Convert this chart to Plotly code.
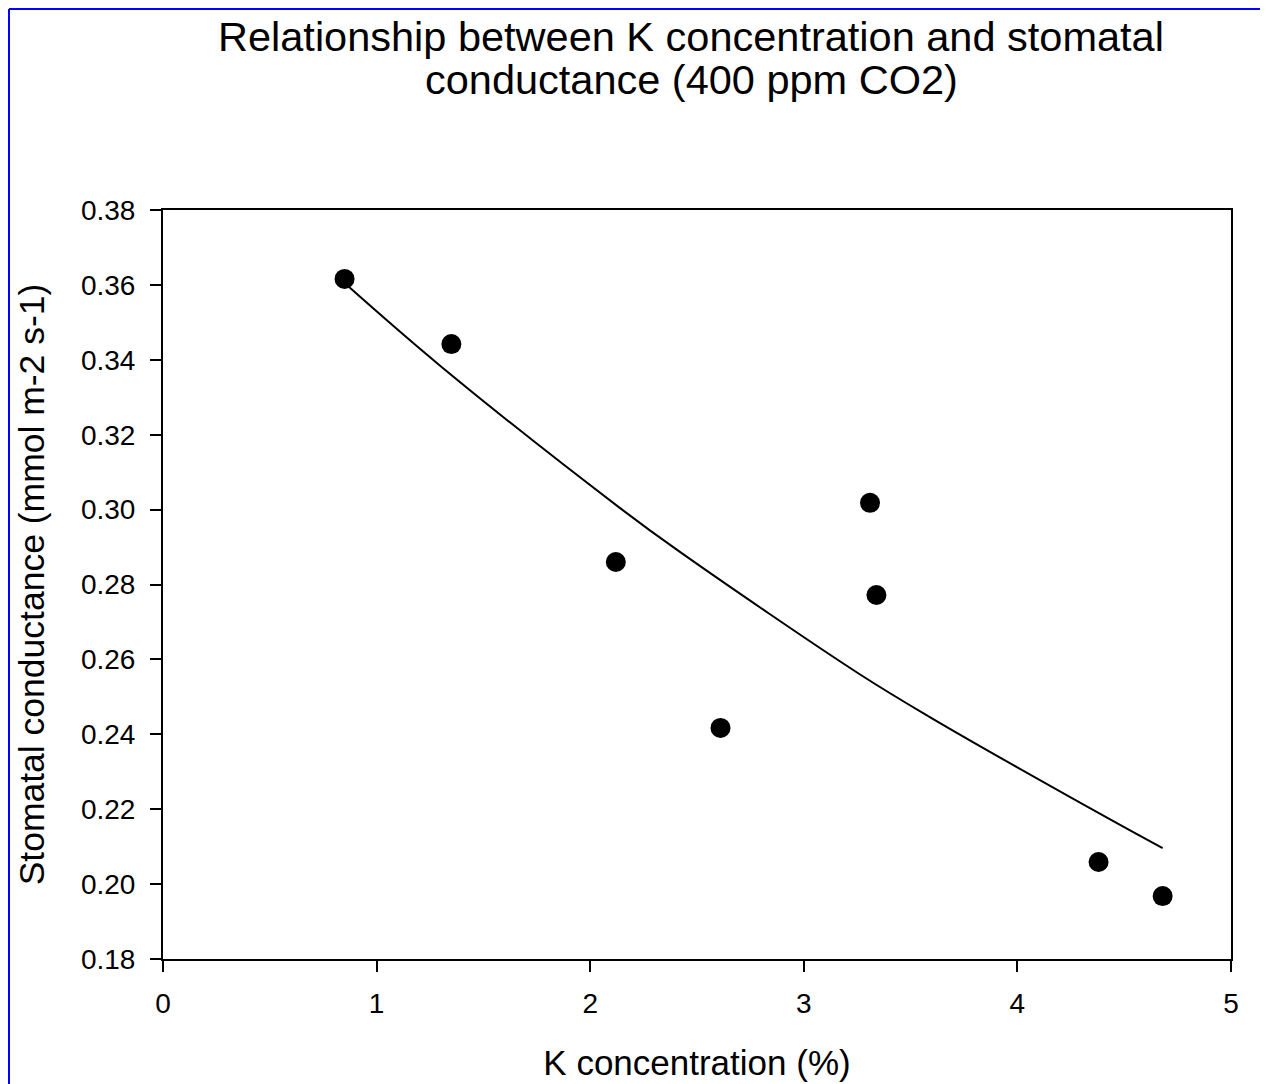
import plotly.graph_objects as go

# Measured points (K %, stomatal conductance)
k_conc = [0.85, 1.35, 2.12, 2.61, 3.31, 3.34, 4.38, 4.68]
conductance = [0.3616, 0.3442, 0.2860, 0.2417, 0.3018, 0.2772, 0.2059, 0.1968]

# Fitted curve
fit_x = [0.85, 1.30, 2.14, 2.42, 3.26, 3.59, 4.43, 4.68]
fit_y = [0.3605, 0.3383, 0.3004, 0.2887, 0.2561, 0.2446, 0.2174, 0.2096]

title_lines = ["Relationship between K concentration and stomatal",
               "conductance (400 ppm CO2)"]

W, H = 1268, 1084
OFF = 8  # page margin around the figure
L, T = 163 - OFF, 210 - OFF
pw, ph = 1068, 749
R, B = W - L - pw, H - T - ph


def px(x):
    # page pixel -> paper x
    return (x - OFF - L) / pw


def py(y):
    # page pixel -> paper y
    return (T + ph - (y - OFF)) / ph


FONT = "Liberation Sans, Arial, sans-serif"

fig = go.Figure()
fig.add_scatter(x=fit_x, y=fit_y, mode="lines", line=dict(color="black", width=2, shape="spline"),
                showlegend=False, hoverinfo="skip")
fig.add_scatter(x=k_conc, y=conductance, mode="markers",
                marker=dict(color="black", size=20, line=dict(width=0)), showlegend=False)

axis_common = dict(showgrid=False, zeroline=False, showline=True, linecolor="black", linewidth=2,
                   mirror=True, ticks="outside", ticklen=11, tickwidth=2, tickcolor="black",
                   tickfont=dict(size=28, color="black", family=FONT))
fig.update_xaxes(range=[0, 5], dtick=1, tick0=0, ticklabelstandoff=7,
                 title=dict(text="K concentration (%)", font=dict(size=35, color="black", family=FONT),
                            standoff=33),
                 **axis_common)
fig.update_yaxes(range=[0.18, 0.38], dtick=0.02, tick0=0.18, tickformat=".2f", ticklabelstandoff=9,
                 title=dict(text="Stomatal conductance (mmol m-2 s-1)",
                            font=dict(size=35.5, color="black", family=FONT), standoff=25),
                 **axis_common)

for line, ypix in zip(title_lines, [36, 80]):
    fig.add_annotation(text=line, xref="paper", yref="paper", x=px(691), y=py(ypix),
                       xanchor="center", yanchor="middle", showarrow=False,
                       font=dict(size=41.5, color="black", family=FONT))

# blue frame, its right and bottom edges fall outside the picture
fig.add_shape(type="line", xref="paper", yref="paper", x0=px(9), x1=px(9), y0=py(9), y1=py(H + 40),
              line=dict(color="#0000ff", width=2))
fig.add_shape(type="line", xref="paper", yref="paper", x0=px(9), x1=px(W + 40), y0=py(9), y1=py(9),
              line=dict(color="#0000ff", width=2))

fig.update_layout(width=W, height=H, margin=dict(l=L, r=R, t=T, b=B),
                  plot_bgcolor="white", paper_bgcolor="white", font=dict(family=FONT, color="black"))
fig.write_html("out.html")
